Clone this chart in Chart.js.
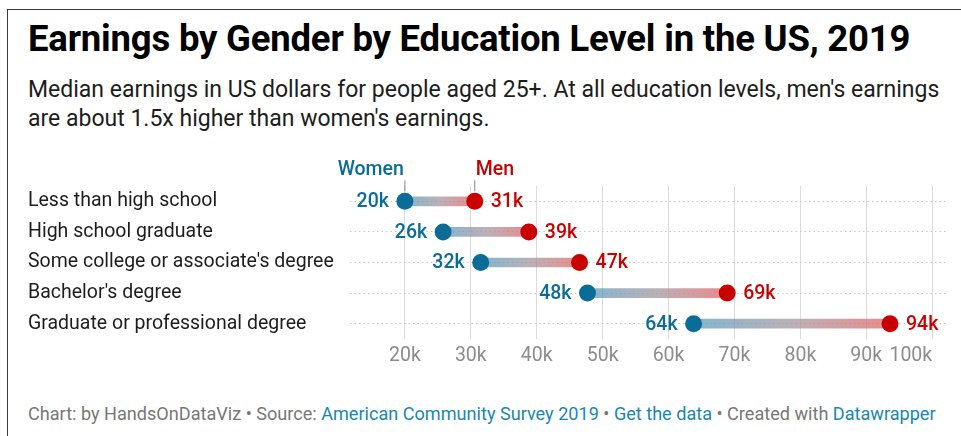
<!DOCTYPE html>
<html>
<head>
<meta charset="utf-8">
<script src="https://cdn.jsdelivr.net/npm/chart.js@4/dist/chart.umd.min.js"></script>
<style>
  body { margin: 0; background: #fff; font-family: Roboto, "Noto Sans", sans-serif; }
  .frame { position: absolute; left: 7px; top: 9px; width: 970px; height: 440px;
           border-left: 1.5px solid #3a3a3a; border-top: 1.5px solid #3a3a3a; }
  h1 { position: absolute; left: 28px; top: 19px; margin: 0; font-size: 36.5px; line-height: 40px;
       font-weight: 700; color: #000; letter-spacing: -0.2px; white-space: nowrap; }
  .sub { position: absolute; left: 28px; top: 76px; margin: 0; font-size: 23px; line-height: 28.5px;
         color: #1d1d1d; white-space: nowrap; }
  .plot { position: absolute; left: 20px; top: 151px; width: 941px; height: 225px; }
  .foot { position: absolute; left: 28px; top: 404px; font-size: 18.1px; line-height: 20px;
          color: #777; white-space: nowrap; }
  .foot a { color: #1a87b0; text-decoration: none; }
</style>
</head>
<body>
<div class="frame"></div>
<h1>Earnings by Gender by Education Level in the US, 2019</h1>
<p class="sub">Median earnings in US dollars for people aged 25+. At all education levels, men's earnings<br>are about 1.5x higher than women's earnings.</p>
<div class="plot"><canvas id="chart"></canvas></div>
<div class="foot">Chart: by HandsOnDataViz • Source: <a>American Community Survey 2019</a> • <a>Get the data</a> • Created with <a>Datawrapper</a></div>

<script>
// Median earnings, thousands of US dollars
const levels = [
  'Less than high school',
  'High school graduate',
  "Some college or associate's degree",
  "Bachelor's degree",
  'Graduate or professional degree'
];
const women = [20.0, 25.8, 31.5, 47.7, 63.8];
const men = [30.6, 38.8, 46.5, 68.9, 93.6];
const xTicks = [20, 30, 40, 50, 60, 70, 80, 90, 100];

const BLUE = '#0b6c97';
const RED = '#c90000';
const FONT = 'Roboto, "Noto Sans", sans-serif';

const fmt = v => Math.round(v) + 'k';

// gradient for each range bar, running from the women's dot to the men's dot
function rangeFill(ctx) {
  const chart = ctx.chart;
  const x = chart.scales.x;
  if (!chart.chartArea || !x || ctx.dataIndex === undefined) return '#aaa';
  const x0 = x.getPixelForValue(women[ctx.dataIndex]);
  const x1 = x.getPixelForValue(men[ctx.dataIndex]);
  const g = chart.ctx.createLinearGradient(x0, 0, x1, 0);
  g.addColorStop(0, 'rgba(80,150,185,0.7)');
  g.addColorStop(0.5, 'rgba(165,150,160,0.75)');
  g.addColorStop(1, 'rgba(228,110,110,0.8)');
  return g;
}

// value labels next to the dots, the series names over the first row and the x tick labels
const annotations = {
  id: 'annotations',
  afterDatasetsDraw(chart) {
    const c = chart.ctx;
    const wMeta = chart.getDatasetMeta(1);
    const mMeta = chart.getDatasetMeta(2);
    c.save();
    c.font = '500 19.5px ' + FONT;
    c.textBaseline = 'middle';
    wMeta.data.forEach((pt, i) => {
      c.fillStyle = BLUE;
      c.textAlign = 'right';
      c.fillText(fmt(women[i]), pt.x - 16, pt.y + 1);
    });
    mMeta.data.forEach((pt, i) => {
      c.fillStyle = RED;
      c.textAlign = 'left';
      c.fillText(fmt(men[i]), pt.x + 16, pt.y + 1);
    });

    // series names with short leader lines
    const w0 = wMeta.data[0];
    const m0 = mMeta.data[0];
    c.strokeStyle = '#888';
    c.lineWidth = 1;
    c.beginPath();
    c.moveTo(w0.x, w0.y - 21); c.lineTo(w0.x, w0.y - 10);
    c.moveTo(m0.x, m0.y - 21); c.lineTo(m0.x, m0.y - 10);
    c.stroke();
    c.fillStyle = BLUE;
    c.textAlign = 'right';
    c.fillText('Women', w0.x - 1, w0.y - 31);
    c.fillStyle = RED;
    c.textAlign = 'left';
    c.fillText('Men', m0.x + 1, m0.y - 31);

    // x tick labels; the last one sits to the left of its gridline
    const xs = chart.scales.x;
    c.font = '19.5px ' + FONT;
    c.fillStyle = '#8c8c8c';
    xs.ticks.forEach((t, i) => {
      const px = xs.getPixelForValue(t.value);
      c.textAlign = i === xs.ticks.length - 1 ? 'right' : 'center';
      c.fillText(t.value + 'k', px, chart.chartArea.bottom + 17);
    });
    c.restore();
  }
};

new Chart(document.getElementById('chart'), {
  type: 'bar',
  data: {
    labels: levels,
    datasets: [
      {
        type: 'bar',
        data: women.map((w, i) => [w, men[i]]),
        backgroundColor: rangeFill,
        barThickness: 9,
        borderWidth: 0,
        order: 3
      },
      {
        type: 'line',
        label: 'Women',
        data: women,
        showLine: false,
        pointRadius: 8.5,
        pointBorderWidth: 0,
        pointBackgroundColor: BLUE,
        order: 1
      },
      {
        type: 'line',
        label: 'Men',
        data: men,
        showLine: false,
        pointRadius: 8.5,
        pointBorderWidth: 0,
        pointBackgroundColor: RED,
        order: 2
      }
    ]
  },
  options: {
    indexAxis: 'y',
    responsive: true,
    maintainAspectRatio: false,
    animation: false,
    events: [],
    layout: { padding: { left: 8, right: 13, top: 35, bottom: 7 } },
    plugins: { legend: { display: false }, tooltip: { enabled: false } },
    scales: {
      x: {
        type: 'linear',
        min: 11.67,
        max: 102.4,
        afterBuildTicks: s => { s.ticks = xTicks.map(v => ({ value: v })); },
        afterFit: s => { s.height = 30; },
        ticks: { display: false },
        grid: { color: '#dcdcdc', lineWidth: 1, drawTicks: false },
        border: { display: false }
      },
      y: {
        type: 'category',
        offset: true,
        afterFit: s => { s.width = 322; },
        ticks: {
          crossAlign: 'far',
          color: '#1d1d1d',
          font: { family: FONT, size: 19.5 },
          padding: 0
        },
        grid: { offset: false, color: '#c8c8c8', lineWidth: 1, drawTicks: false },
        border: { display: false, dash: [1.5, 3] }
      }
    }
  },
  plugins: [annotations]
});
</script>
</body>
</html>
